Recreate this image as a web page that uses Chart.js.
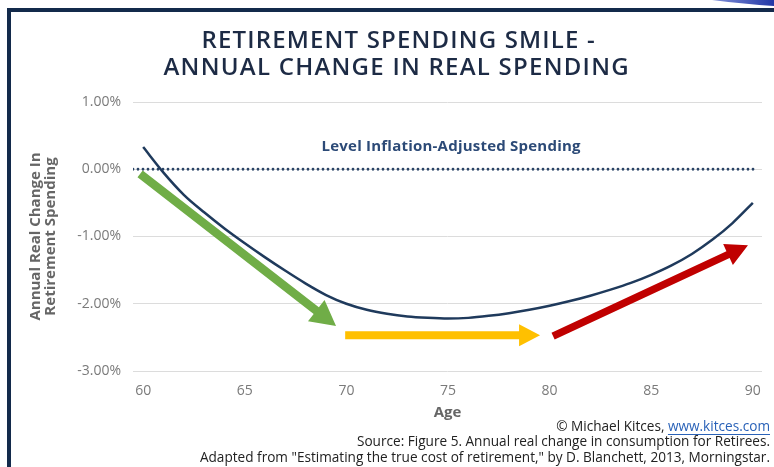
<!DOCTYPE html>
<html>
<head>
<meta charset="utf-8">
<title>Retirement Spending Smile</title>
<script src="https://cdn.jsdelivr.net/npm/chart.js@4.4.1/dist/chart.umd.min.js"></script>
<style>
    html, body { margin: 0; padding: 0; background: #fff; }
    #wrap { width: 774px; height: 467px; }
    canvas { display: block; }
</style>
</head>
<body>
<div id="wrap"><canvas id="smileChart" width="774" height="467"></canvas></div>
<script>
// Data
const ages = [60, 61, 62, 63, 64, 65, 66, 67, 68, 69, 70, 71, 72, 73, 74, 75,
              76, 77, 78, 79, 80, 81, 82, 83, 84, 85, 86, 87, 88, 89, 90];
const realChange = [0.33, -0.05, -0.38, -0.64, -0.88, -1.10, -1.31, -1.51, -1.70, -1.87, -2.00,
                    -2.09, -2.15, -2.19, -2.21, -2.22, -2.21, -2.18, -2.14, -2.09, -2.03,
                    -1.96, -1.88, -1.79, -1.69, -1.57, -1.43, -1.26, -1.05, -0.80, -0.50];
const xTickValues = [60, 65, 70, 75, 80, 85, 90];
const yTickValues = [1, 0, -1, -2, -3];
const levelAges = [59.5, 90.1];
const levelValues = [0, 0];

// Arrow annotations in data units: [startAge, startValue, tipAge, tipValue]
const greenArrow = [59.85, -0.07, 69.49, -2.33];
const yellowArrow = [69.94, -2.47, 79.53, -2.47];
const redArrow = [80.17, -2.48, 89.76, -1.13];

const titleLines = ['RETIREMENT SPENDING SMILE -', 'ANNUAL CHANGE IN REAL SPENDING'];
const levelLabel = 'Level Inflation-Adjusted Spending';
const sourceLines = [
    'Source: Figure 5. Annual real change in consumption for Retirees.',
    'Adapted from "Estimating the true cost of retirement," by D. Blanchett, 2013, Morningstar.'
];

const FONT = '"Open Sans", "Noto Sans", sans-serif';

// Helpers
const drawArrow = (ctx, x1, y1, x2, y2, color, shaft, headLen, headWidth) => {
    const ang = Math.atan2(y2 - y1, x2 - x1);
    const len = Math.hypot(x2 - x1, y2 - y1);
    ctx.save();
    ctx.translate(x1, y1);
    ctx.rotate(ang);
    ctx.fillStyle = color;
    ctx.beginPath();
    ctx.moveTo(0, -shaft / 2);
    ctx.lineTo(len - headLen, -shaft / 2);
    ctx.lineTo(len - headLen, -headWidth / 2);
    ctx.lineTo(len, 0);
    ctx.lineTo(len - headLen, headWidth / 2);
    ctx.lineTo(len - headLen, shaft / 2);
    ctx.lineTo(0, shaft / 2);
    ctx.closePath();
    ctx.fill();
    ctx.restore();
};

// text spread out to a given width (the original uses a wider typeface)
const fillSpread = (ctx, text, cx, cy, width) => {
    ctx.letterSpacing = '0px';
    const w = ctx.measureText(text).width;
    const extra = Math.max(0, (width - w) / (text.length - 1));
    ctx.letterSpacing = extra.toFixed(2) + 'px';
    ctx.textAlign = 'left';
    ctx.fillText(text, cx - width / 2, cy);
    ctx.letterSpacing = '0px';
};

// Plugin: frame, title, source and annotations
const decorPlugin = {
    id: 'decor',
    beforeDraw(chart) {
        const ctx = chart.ctx;
        const w = chart.width, h = chart.height;
        ctx.save();
        ctx.fillStyle = '#ffffff';
        ctx.fillRect(0, 0, w, h);
        // navy frame
        ctx.fillStyle = '#132a4b';
        ctx.fillRect(7, 8, w - 7, 4);
        ctx.fillRect(7, 8, 4, h - 8);
        // blue swoosh top right
        const grad = ctx.createLinearGradient(712, 0, w, 0);
        grad.addColorStop(0, '#8090d8');
        grad.addColorStop(1, '#2237a6');
        ctx.fillStyle = grad;
        ctx.beginPath();
        ctx.moveTo(712, 0);
        ctx.lineTo(w, 0);
        ctx.lineTo(w, 6);
        ctx.quadraticCurveTo(745, 4, 712, 0);
        ctx.closePath();
        ctx.fill();
        // title
        ctx.fillStyle = '#1d2b45';
        ctx.font = '600 24px ' + FONT;
        ctx.textBaseline = 'middle';
        fillSpread(ctx, titleLines[0], 398, 41, 393);
        fillSpread(ctx, titleLines[1], 396, 68, 465);
        ctx.restore();
    },
    afterDatasetsDraw(chart) {
        const ctx = chart.ctx;
        const xs = chart.scales.x, ys = chart.scales.y;
        const px = (a) => xs.getPixelForValue(a);
        const py = (v) => ys.getPixelForValue(v);
        ctx.save();
        // level label
        ctx.fillStyle = '#2c4a77';
        ctx.font = 'bold 15px ' + FONT;
        ctx.textBaseline = 'middle';
        fillSpread(ctx, levelLabel, px(75.15), py(0.34), 259);
        // arrows
        drawArrow(ctx, px(greenArrow[0]), py(greenArrow[1]), px(greenArrow[2]), py(greenArrow[3]), '#70ad47', 8.5, 25, 27);
        drawArrow(ctx, px(yellowArrow[0]), py(yellowArrow[1]), px(yellowArrow[2]), py(yellowArrow[3]), '#ffc000', 8, 21, 22);
        drawArrow(ctx, px(redArrow[0]), py(redArrow[1]), px(redArrow[2]), py(redArrow[3]), '#c00000', 7.5, 22, 23);
        ctx.restore();
    },
    afterDraw(chart) {
        const ctx = chart.ctx;
        const right = 770;
        ctx.save();
        ctx.font = '13.6px ' + FONT;
        ctx.textAlign = 'right';
        ctx.textBaseline = 'middle';
        // credit line with link
        const link = 'www.kitces.com';
        const linkW = ctx.measureText(link).width;
        ctx.fillStyle = '#2a62b8';
        ctx.fillText(link, right, 427);
        ctx.fillRect(right - linkW, 434, linkW, 1);
        ctx.fillStyle = '#222222';
        ctx.fillText('\u00A9 Michael Kitces, ', right - linkW, 427);
        ctx.fillText(sourceLines[0], right, 442);
        ctx.fillText(sourceLines[1], right, 458);
        ctx.restore();
    }
};

const ctx = document.getElementById('smileChart').getContext('2d');
const smileChart = new Chart(ctx, {
    type: 'line',
    data: {
        datasets: [{
            label: 'Annual real change',
            data: ages.map((a, i) => ({ x: a, y: realChange[i] })),
            borderColor: '#1f3a5c',
            borderWidth: 2.5,
            pointRadius: 0,
            cubicInterpolationMode: 'monotone',
            fill: false
        }, {
            label: 'Level',
            data: levelAges.map((a, i) => ({ x: a, y: levelValues[i] })),
            borderColor: '#2a4466',
            borderWidth: 2.8,
            borderDash: [0, 5],
            borderCapStyle: 'round',
            pointRadius: 0,
            fill: false
        }]
    },
    options: {
        responsive: false,
        animation: false,
        layout: {
            padding: { left: 20, right: 12, top: 102, bottom: 44 }
        },
        plugins: {
            legend: { display: false },
            tooltip: { enabled: false },
            title: { display: false }
        },
        scales: {
            x: {
                type: 'linear',
                min: 59.5,
                max: 90.45,
                afterBuildTicks: (scale) => {
                    scale.ticks = xTickValues.map(v => ({ value: v }));
                },
                afterFit: (scale) => { scale.height = 52; },
                grid: { display: false, drawTicks: false },
                border: { display: false },
                ticks: {
                    color: '#7a7a7a',
                    font: { family: FONT, size: 14 },
                    padding: 12,
                    maxRotation: 0
                },
                title: {
                    display: true,
                    text: 'Age',
                    color: '#666666',
                    font: { family: FONT, size: 15, weight: 'bold' },
                    padding: { top: 0, bottom: 1 }
                }
            },
            y: {
                min: -3,
                max: 1,
                afterBuildTicks: (scale) => {
                    scale.ticks = yTickValues.map(v => ({ value: v }));
                },
                afterFit: (scale) => { scale.width = 113; },
                grid: { color: '#dcdcdc', lineWidth: 1, drawTicks: false },
                border: { display: false },
                ticks: {
                    color: '#7a7a7a',
                    font: { family: FONT, size: 14 },
                    padding: 12,
                    callback: (v) => v.toFixed(2) + '%'
                },
                title: {
                    display: true,
                    text: ['Annual Real Change In', 'Retirement Spending'],
                    color: '#666666',
                    font: { family: FONT, size: 15, weight: 'bold', lineHeight: 1.0 },
                    padding: { top: 8, bottom: 0 }
                }
            }
        }
    },
    plugins: [decorPlugin]
});
</script>
</body>
</html>
